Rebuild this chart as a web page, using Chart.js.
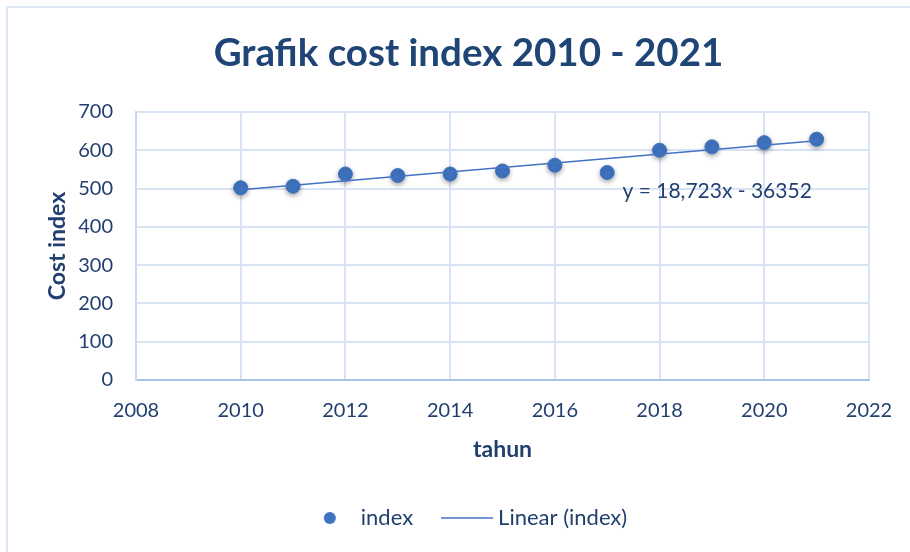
<!DOCTYPE html>
<html>
<head>
<meta charset="utf-8">
<script src="https://cdn.jsdelivr.net/npm/chart.js@4.4.1/dist/chart.umd.min.js"></script>
<style>
  html, body { margin: 0; padding: 0; background: #fff; overflow: hidden; width: 910px; height: 552px; }
  #frame { position: absolute; left: 6px; top: 6px; width: 950px; height: 570px; border: 2px solid #dde7f5; box-sizing: border-box; }
  #wrap { position: absolute; left: 0; top: 0; width: 937px; height: 552px; }
</style>
</head>
<body>
<div id="frame"></div>
<div id="wrap"><canvas id="chart" width="937" height="552"></canvas></div>
<script>
// data
const years = [2010, 2011, 2012, 2013, 2014, 2015, 2016, 2017, 2018, 2019, 2020, 2021];
const costIndex = [502, 506, 538, 534, 538, 546, 561, 542, 600, 609, 620, 629];
const trendYears = [2010, 2021];
const trendValues = [497, 625];
const equationText = 'y = 18,723x - 36352';
const equationYear = 2019.1;
const equationValue = 493;

const textColor = '#213f6f';
const fontFamily = 'Lato, "Open Sans", sans-serif';

// legend markers
function makeDot() {
    const c = document.createElement('canvas');
    c.width = 14; c.height = 14;
    const g = c.getContext('2d');
    g.fillStyle = '#3f73c0';
    g.beginPath();
    g.arc(7, 7, 6, 0, Math.PI * 2);
    g.fill();
    return c;
}
function makeLine() {
    const c = document.createElement('canvas');
    c.width = 52; c.height = 4;
    const g = c.getContext('2d');
    g.strokeStyle = '#4472c4';
    g.lineWidth = 1.5;
    g.beginPath();
    g.moveTo(0, 2);
    g.lineTo(52, 2);
    g.stroke();
    return c;
}
const legendMarks = [makeDot(), makeLine()];

const pointShadow = {
    id: 'pointShadow',
    beforeDatasetDraw(chart, args) {
        if (args.index !== 0) return;
        const ctx = chart.ctx;
        ctx.save();
        ctx.shadowColor = 'rgba(0, 0, 0, 0.35)';
        ctx.shadowBlur = 5;
        ctx.shadowOffsetX = 0;
        ctx.shadowOffsetY = 2;
    },
    afterDatasetDraw(chart, args) {
        if (args.index === 0) chart.ctx.restore();
    }
};

const equationLabel = {
    id: 'equationLabel',
    afterDatasetsDraw(chart) {
        const { ctx, scales: { x, y } } = chart;
        ctx.save();
        ctx.font = '21px ' + fontFamily;
        ctx.fillStyle = textColor;
        ctx.textAlign = 'center';
        ctx.textBaseline = 'middle';
        ctx.fillText(equationText, x.getPixelForValue(equationYear), y.getPixelForValue(equationValue));
        ctx.restore();
    }
};

new Chart(document.getElementById('chart'), {
    type: 'scatter',
    data: {
        datasets: [{
            label: 'index',
            data: years.map((yr, i) => ({ x: yr, y: costIndex[i] })),
            backgroundColor: '#3f73c0',
            borderColor: '#3f73c0',
            pointRadius: 7,
            pointHoverRadius: 7,
            order: 1
        }, {
            label: 'Linear (index)',
            data: trendYears.map((yr, i) => ({ x: yr, y: trendValues[i] })),
            showLine: true,
            borderColor: '#4472c4',
            borderWidth: 1.5,
            pointRadius: 0,
            order: 0
        }]
    },
    options: {
        responsive: false,
        animation: false,
        layout: { padding: { left: 0, right: 0, top: 0, bottom: 13 } },
        plugins: {
            title: {
                display: true,
                text: 'Grafik cost index 2010 - 2021',
                color: '#1f4476',
                font: { family: fontFamily, size: 38.5, weight: 'bold', lineHeight: 1.2 },
                padding: { top: 30, bottom: 35.8 }
            },
            legend: {
                position: 'bottom',
                labels: {
                    usePointStyle: true,
                    pointStyleWidth: 40,
                    padding: 34,
                    color: textColor,
                    font: { family: fontFamily, size: 22 },
                    sort: (a, b) => a.datasetIndex - b.datasetIndex,
                    generateLabels(chart) {
                        return Chart.defaults.plugins.legend.labels.generateLabels(chart).map(item => {
                            item.pointStyle = legendMarks[item.datasetIndex];
                            return item;
                        });
                    }
                }
            },
            tooltip: { enabled: false }
        },
        scales: {
            x: {
                type: 'linear',
                min: 2008,
                max: 2022,
                ticks: {
                    stepSize: 2,
                    padding: 19,
                    color: textColor,
                    font: { family: fontFamily, size: 20 },
                    callback: v => String(v)
                },
                grid: { color: '#d8e3f4', lineWidth: 2, drawTicks: false },
                border: { color: '#a9c3e8', width: 2 },
                title: {
                    display: true,
                    text: 'tahun',
                    color: textColor,
                    font: { family: fontFamily, size: 23, weight: 'bold' },
                    padding: { top: 0, bottom: 10 }
                },
                afterFit: s => { s.height = 93; }
            },
            y: {
                min: 0,
                max: 700,
                ticks: {
                    stepSize: 100,
                    padding: 23,
                    color: textColor,
                    font: { family: fontFamily, size: 20 }
                },
                grid: { color: '#d8e3f4', lineWidth: 2, drawTicks: false },
                border: { color: '#c9d8f0', width: 2 },
                title: {
                    display: true,
                    text: 'Cost index',
                    color: textColor,
                    font: { family: fontFamily, size: 23, weight: 'bold' },
                    padding: { top: 44, bottom: 0 }
                },
                afterFit: s => { s.width = 136; }
            },
            gap: {
                axis: 'y',
                position: 'right',
                display: true,
                ticks: { display: false },
                grid: { display: false },
                border: { display: false },
                afterFit: s => { s.width = 68; }
            }
        }
    },
    plugins: [pointShadow, equationLabel]
});
</script>
</body>
</html>
